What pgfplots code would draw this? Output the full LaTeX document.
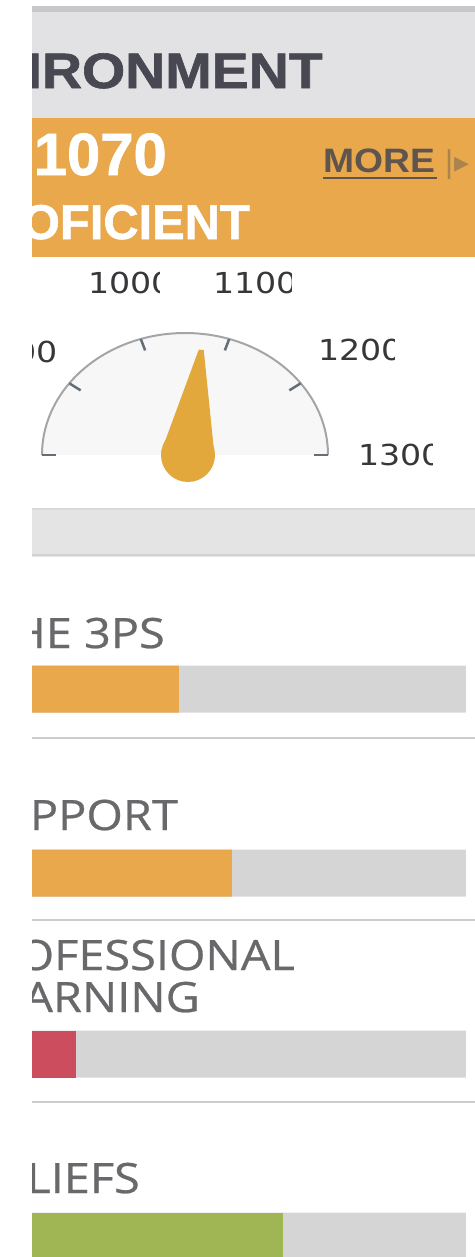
\documentclass[border=0pt]{standalone}
\usepackage{pgfplots}
\pgfplotsset{compat=1.18}
\usepackage{fontspec}
\setmainfont{Liberation Sans}
\newfontfamily\osans{Open Sans}[FakeBold=0.6]
\newfontfamily\hvy{Liberation Sans Bold}[FakeBold=1.2]
\newfontfamily\dvs{DejaVu Sans}
\definecolor{hdr}{RGB}{226,226,229}
\definecolor{hdrline}{RGB}{200,200,202}
\definecolor{orng}{RGB}{233,168,76}
\definecolor{needle}{RGB}{226,168,60}
\definecolor{trk}{RGB}{213,213,213}
\definecolor{redb}{RGB}{204,78,94}
\definecolor{grnb}{RGB}{160,182,84}
\definecolor{txtg}{RGB}{105,105,108}
\definecolor{hdrtxt}{RGB}{72,72,82}
\definecolor{moretxt}{RGB}{95,85,78}
\definecolor{sep}{RGB}{205,205,205}
\definecolor{arcg}{RGB}{165,165,168}
\definecolor{tickg}{RGB}{100,110,120}
\definecolor{lblg}{RGB}{55,55,58}
\definecolor{band}{RGB}{228,228,228}
\begin{document}
\begin{tikzpicture}
\useasboundingbox (0,0) rectangle (475bp,-1257bp);
\def\gval{1070}
\pgfmathsetmacro\ang{180*(1-(\gval-800)/500)}
\pgfmathsetmacro\tipx{188+106*cos(\ang)}
\pgfmathsetmacro\tipy{455-106*sin(\ang)}
\pgfmathsetmacro\px{sin(\ang)}
\pgfmathsetmacro\py{cos(\ang)}
\pgfmathsetmacro\tax{\tipx+2.5*\px}
\pgfmathsetmacro\tay{\tipy+2.5*\py}
\pgfmathsetmacro\tbx{\tipx-2.5*\px}
\pgfmathsetmacro\tby{\tipy-2.5*\py}
\pgfmathsetmacro\bax{188+27*\px}
\pgfmathsetmacro\bay{455+27*\py}
\pgfmathsetmacro\bbx{188-27*\px}
\pgfmathsetmacro\bby{455-27*\py}
\begin{scope}
\clip (32bp,0) rectangle (475bp,-1257bp);
\begin{axis}[at={(0,0)}, anchor=north west, x=1bp, y=1bp,
  xmin=0, xmax=475, ymin=0, ymax=1257, y dir=reverse,
  hide axis, clip=false]
% header
\fill[hdrline] (axis cs:0,6) rectangle (axis cs:475,12);
\fill[hdr] (axis cs:0,12) rectangle (axis cs:475,118);
\fill[orng] (axis cs:0,118) rectangle (axis cs:475,257);
\node[anchor=base east, inner sep=0, text=hdrtxt, font=\hvy\fontsize{50}{50}\selectfont] at (axis cs:323,88) {\scalebox{1.115}[1]{LEARNING ENVIRONMENT}};
\node[anchor=base east, inner sep=0, text=white, font=\hvy\fontsize{60}{60}\selectfont] at (axis cs:167,175) {1070};
\node[anchor=base east, inner sep=0, text=white, font=\hvy\fontsize{49}{49}\selectfont] at (axis cs:250,239) {PROFICIENT};
\node[anchor=base west, inner sep=0, text=moretxt, font=\bfseries\fontsize{34}{34}\selectfont] at (axis cs:323,172) {\scalebox{1.1}[1]{MORE}};
\draw[moretxt, line width=2bp] (axis cs:323,178) -- (axis cs:437,178);
\node[anchor=base west, inner sep=0, text=orng!55!moretxt, font=\dvs\fontsize{30}{30}\selectfont] at (axis cs:444,172) {|▸};
% gauge
\fill[gray!6] (axis cs:42,455) arc[start angle=180, end angle=0, x radius=143bp, y radius=122bp] -- cycle;
\draw[arcg, line width=2bp] (axis cs:42,455) arc[start angle=180, end angle=0, x radius=143bp, y radius=122bp];
\pgfplotsinvokeforeach{0,36,72,108,144,180}{
  \draw[tickg, line width=2.5bp] (axis cs:{185+143*cos(#1)},{455-122*sin(#1)}) -- (axis cs:{185+129*cos(#1)},{455-110*sin(#1)});
}
\fill[needle] (axis cs:188,455) circle[radius=27bp];
\fill[needle] (axis cs:\tax,\tay) -- (axis cs:\bax,\bay) -- (axis cs:\bbx,\bby) -- (axis cs:\tbx,\tby) -- cycle;
\node[anchor=base east, inner sep=0, text=lblg, font=\dvs\fontsize{29}{29}\selectfont] at (axis cs:58,362) {\scalebox{1.15}[1]{900}};
\begin{scope}
\clip (axis cs:80,260) rectangle (axis cs:160,300);
\node[anchor=base west, inner sep=0, text=lblg, font=\dvs\fontsize{29}{29}\selectfont] at (axis cs:88,293) {\scalebox{1.15}[1]{1000}};
\end{scope}
\begin{scope}
\clip (axis cs:205,260) rectangle (axis cs:292,300);
\node[anchor=base west, inner sep=0, text=lblg, font=\dvs\fontsize{29}{29}\selectfont] at (axis cs:213,293) {\scalebox{1.15}[1]{1100}};
\end{scope}
\begin{scope}
\clip (axis cs:310,325) rectangle (axis cs:395,370);
\node[anchor=base west, inner sep=0, text=lblg, font=\dvs\fontsize{29}{29}\selectfont] at (axis cs:318,360) {\scalebox{1.15}[1]{1200}};
\end{scope}
\begin{scope}
\clip (axis cs:350,430) rectangle (axis cs:433,475);
\node[anchor=base west, inner sep=0, text=lblg, font=\dvs\fontsize{29}{29}\selectfont] at (axis cs:358,465) {\scalebox{1.15}[1]{1300}};
\end{scope}
% grey band
\fill[band] (axis cs:0,508) rectangle (axis cs:475,557);
\draw[gray!30, line width=1.5bp] (axis cs:0,509) -- (axis cs:475,509);
\draw[gray!35, line width=2bp] (axis cs:0,555) -- (axis cs:475,555);
% separators
\draw[sep, line width=2bp] (axis cs:0,738) -- (axis cs:475,738);
\draw[sep, line width=2bp] (axis cs:0,920) -- (axis cs:475,920);
\draw[sep, line width=2bp] (axis cs:0,1102) -- (axis cs:475,1102);
% section labels
\node[anchor=base east, inner sep=0, text=txtg, font=\osans\fontsize{42}{42}\selectfont] at (axis cs:165,648) {\scalebox{1.12}[1]{THE 3PS}};
\node[anchor=base east, inner sep=0, text=txtg, font=\osans\fontsize{42}{42}\selectfont] at (axis cs:178,830) {\scalebox{1.12}[1]{SUPPORT}};
\node[anchor=base east, inner sep=0, text=txtg, font=\osans\fontsize{42}{42}\selectfont] at (axis cs:295,970) {\scalebox{1.12}[1]{PROFESSIONAL}};
\node[anchor=base east, inner sep=0, text=txtg, font=\osans\fontsize{42}{42}\selectfont] at (axis cs:200,1012) {\scalebox{1.12}[1]{LEARNING}};
\node[anchor=base east, inner sep=0, text=txtg, font=\osans\fontsize{42}{42}\selectfont] at (axis cs:140,1193) {\scalebox{1.12}[1]{BELIEFS}};
% bars (values in percent of the track; track end = 100)
\addplot[xbar, bar shift=0pt, bar width=47, fill=trk, draw=none]
  table[x expr=5*\thisrow{v}-34, y=y, row sep=\\] {v y\\ 100 689\\ 100 873\\ 100 1054\\ 100 1236\\};
\addplot[xbar, bar shift=0pt, bar width=47, fill=orng, draw=none]
  table[x expr=5*\thisrow{v}-34, y=y, row sep=\\] {v y\\ 42.6 689\\ 53.2 873\\};
\addplot[xbar, bar shift=0pt, bar width=47, fill=redb, draw=none]
  table[x expr=5*\thisrow{v}-34, y=y, row sep=\\] {v y\\ 22 1054\\};
\addplot[xbar, bar shift=0pt, bar width=47, fill=grnb, draw=none]
  table[x expr=5*\thisrow{v}-34, y=y, row sep=\\] {v y\\ 63.4 1236\\};
\end{axis}
\end{scope}
\end{tikzpicture}
\end{document}
